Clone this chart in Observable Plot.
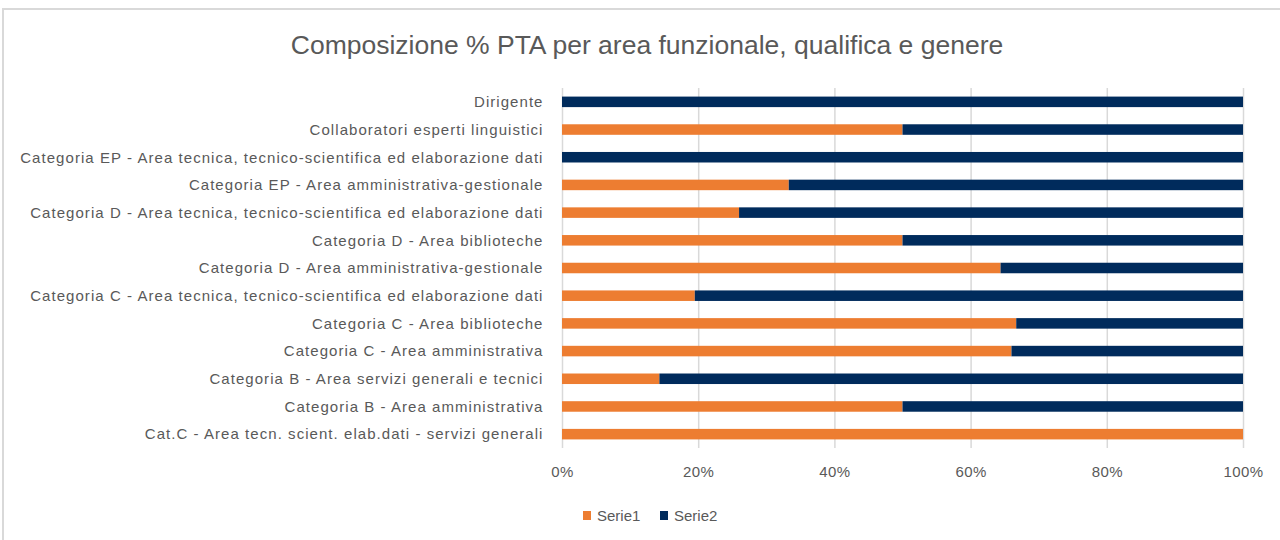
<!DOCTYPE html>
<html><head><meta charset="utf-8">
<script src="https://cdn.jsdelivr.net/npm/d3@7"></script>
<script src="https://cdn.jsdelivr.net/npm/@observablehq/plot@0.6"></script>
<style>
html,body{margin:0;padding:0;background:#fff;overflow:hidden;}
#wrap{position:relative;width:1280px;height:540px;font-family:"Liberation Sans",Arial,sans-serif;color:#595959;overflow:hidden;}
.fl{position:absolute;background:#d9d9d9;pointer-events:none;}
#ftop{left:2px;top:8px;width:1278px;height:2px;}
#fleft{left:2px;top:8px;width:2px;height:532px;}
#title{position:relative;height:70px;box-sizing:border-box;padding-top:29px;padding-left:14px;text-align:center;font-size:26.5px;line-height:32px;color:#595959;}
#chart{position:relative;height:430px;}
#chart svg{display:block;}
#chart svg g[aria-label="y-axis tick label"] text{letter-spacing:1.05px;}
#chart svg g[aria-label="x-axis tick label"] text{letter-spacing:0.4px;}
#legend{position:relative;height:40px;font-size:15px;color:#595959;}
.item{position:absolute;top:7px;display:flex;align-items:center;height:16px;}
.sw{width:8px;height:9px;margin-right:6px;}
</style>
</head><body>
<div id="wrap">
<div class="fl" id="ftop"></div>
<div class="fl" id="fleft"></div>
<div id="title">Composizione % PTA per area funzionale, qualifica e genere</div>
<div id="chart"></div>
<div id="legend"></div>
</div>
<script>
const categories = [
  "Dirigente",
  "Collaboratori esperti linguistici",
  "Categoria EP - Area tecnica, tecnico-scientifica ed elaborazione dati",
  "Categoria EP - Area amministrativa-gestionale",
  "Categoria D - Area tecnica, tecnico-scientifica ed elaborazione dati",
  "Categoria D - Area biblioteche",
  "Categoria D - Area amministrativa-gestionale",
  "Categoria C - Area tecnica, tecnico-scientifica ed elaborazione dati",
  "Categoria C - Area biblioteche",
  "Categoria C - Area amministrativa",
  "Categoria B - Area servizi generali e tecnici",
  "Categoria B - Area amministrativa",
  "Cat.C - Area tecn. scient. elab.dati - servizi generali"
];
const serie1 = [0, 50, 0, 33.3, 26, 50, 64.4, 19.5, 66.7, 66, 14.3, 50, 100];
const serie2 = [100, 50, 100, 66.7, 74, 50, 35.6, 80.5, 33.3, 34, 85.7, 50, 0];
const seriesNames = ["Serie1", "Serie2"];
const seriesColors = ["#ed7d31", "#002b5c"];
const xTicks = [0, 20, 40, 60, 80, 100];

const data = [
  ...categories.map((c, i) => ({cat: c, series: seriesNames[0], value: serie1[i]})),
  ...categories.map((c, i) => ({cat: c, series: seriesNames[1], value: serie2[i]}))
];

const chart = Plot.plot({
  width: 1280,
  height: 430,
  marginLeft: 562,
  marginRight: 37,
  marginTop: 18,
  marginBottom: 52,
  style: {fontFamily: '"Liberation Sans", Arial, sans-serif', fontSize: "15px", color: "#595959", background: "transparent"},
  x: {domain: [0, 100], label: null},
  y: {domain: categories, paddingInner: 0.62, paddingOuter: 0.31, round: false, label: null},
  color: {domain: seriesNames, range: seriesColors},
  marks: [
    Plot.gridX(xTicks, {stroke: "#d9d9d9", strokeOpacity: 1, strokeWidth: 1.5}),
    Plot.axisX({ticks: xTicks, tickFormat: d => d + "%", tickSize: 0, tickPadding: 18, fontSize: 15, label: null}),
    Plot.axisY({tickSize: 0, tickPadding: 19, label: null}),
    Plot.barX(data, {x: "value", y: "cat", fill: "series", order: seriesNames})
  ]
});
document.getElementById("chart").appendChild(chart);

const legend = document.getElementById("legend");
const lefts = [583, 660];
seriesNames.forEach((s, i) => {
  const it = document.createElement("div");
  it.className = "item";
  it.style.left = lefts[i] + "px";
  it.innerHTML = `<span class="sw" style="background:${seriesColors[i]}"></span><span>${s}</span>`;
  legend.appendChild(it);
});
</script>
</body></html>
